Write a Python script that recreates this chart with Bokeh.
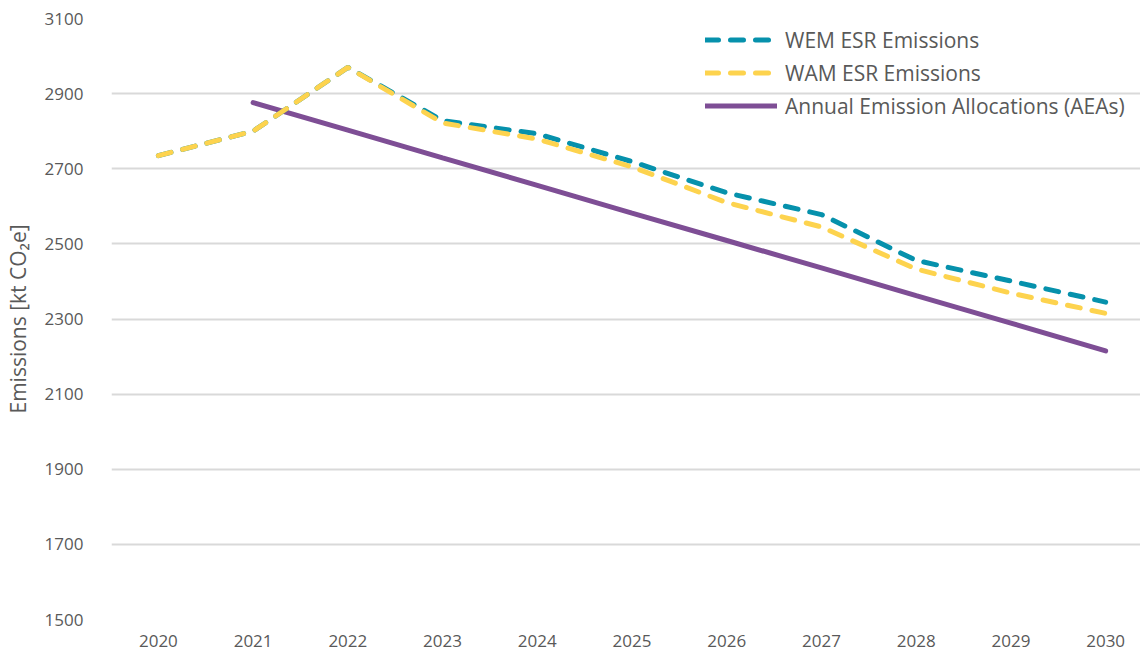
from bokeh.plotting import figure
from bokeh.models import Range1d, FixedTicker, Legend, LegendItem
from bokeh.embed import file_html
from bokeh.resources import INLINE

years = [2020, 2021, 2022, 2023, 2024, 2025, 2026, 2027, 2028, 2029, 2030]
wem = [2735, 2800, 2970, 2828, 2793, 2719, 2636, 2578, 2456, 2401, 2345]
wam = [2735, 2800, 2970, 2822, 2779, 2705, 2610, 2545, 2433, 2369, 2315]
aea_years = [2021, 2022, 2023, 2024, 2025, 2026, 2027, 2028, 2029, 2030]
aea = [2876, 2803, 2729, 2656, 2582, 2509, 2436, 2362, 2289, 2215]
y_ticks = [1500, 1700, 1900, 2100, 2300, 2500, 2700, 2900, 3100]

FONT = "Open Sans"
GREY = "#595959"

p = figure(width=1140, height=655, output_backend="svg", toolbar_location=None,
           x_range=Range1d(2019.505, 2030.368), y_range=Range1d(1500, 3100),
           min_border_left=108, min_border_top=18, min_border_right=0, min_border_bottom=36)
p.outline_line_color = None
p.background_fill_color = "white"

p.xaxis.ticker = FixedTicker(ticks=years)
p.yaxis.ticker = FixedTicker(ticks=y_ticks)
for ax in (p.xaxis, p.yaxis):
    ax.axis_line_color = None
    ax.major_tick_line_color = None
    ax.minor_tick_line_color = None
    ax.major_label_text_font = FONT
    ax.major_label_text_color = GREY
    ax.major_label_text_font_size = "17px"
p.xaxis.major_label_standoff = 9
p.yaxis.major_label_standoff = 22
p.yaxis.axis_label = "Emissions [kt CO₂e]"
p.yaxis.axis_label_text_font = FONT
p.yaxis.axis_label_text_font_style = "normal"
p.yaxis.axis_label_text_color = GREY
p.yaxis.axis_label_text_font_size = "21px"
p.yaxis.axis_label_standoff = 10

p.xgrid.grid_line_color = None
p.ygrid.grid_line_color = "#d9d9d9"
p.ygrid.grid_line_width = 2

r_aea = p.line(aea_years, aea, line_color="#7E4E95", line_width=5, line_cap="round")
r_wem = p.line(years, wem, line_color="#0691AC", line_width=5, line_dash="13 12", line_cap="round")
r_wam = p.line(years, wam, line_color="#FDD34E", line_width=5, line_dash="13 12", line_cap="round")

legend = Legend(items=[
    LegendItem(label="WEM ESR Emissions", renderers=[r_wem]),
    LegendItem(label="WAM ESR Emissions", renderers=[r_wam]),
    LegendItem(label="Annual Emission Allocations (AEAs)", renderers=[r_aea]),
], location=(594, 497))
legend.label_text_font = FONT
legend.label_text_color = GREY
legend.label_text_font_size = "21px"
legend.glyph_width = 72
legend.glyph_height = 33
legend.label_height = 33
legend.label_standoff = 8
legend.spacing = 0
legend.padding = 0
legend.margin = 0
legend.border_line_color = None
legend.background_fill_alpha = 0
p.add_layout(legend)

open("out.html", "w").write(file_html(p, INLINE))
